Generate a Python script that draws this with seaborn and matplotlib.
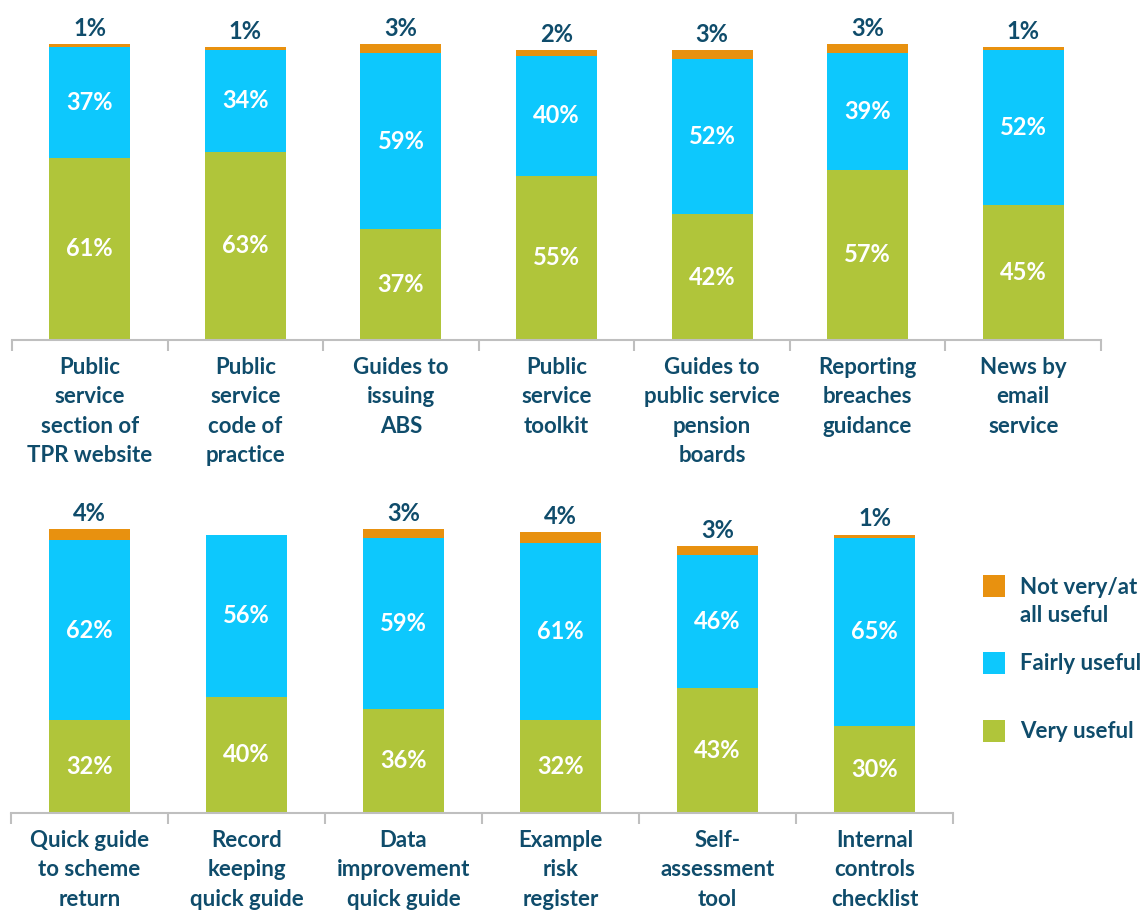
import matplotlib
matplotlib.use("Agg")
import matplotlib.pyplot as plt
import seaborn as sns
import numpy as np
from matplotlib.patches import Rectangle
from matplotlib.ticker import FixedLocator

# ---------------- data ----------------
top_categories = [
    "Public\nservice\nsection of\nTPR website",
    "Public\nservice\ncode of\npractice",
    "Guides to\nissuing\nABS",
    "Public\nservice\ntoolkit",
    "Guides to\npublic service\npension\nboards",
    "Reporting\nbreaches\nguidance",
    "News by\nemail\nservice",
]
top_very = [61, 63, 37, 55, 42, 57, 45]
top_fairly = [37, 34, 59, 40, 52, 39, 52]
top_not = [1, 1, 3, 2, 3, 3, 1]

bottom_categories = [
    "Quick guide\nto scheme\nreturn",
    "Record\nkeeping\nquick guide",
    "Data\nimprovement\nquick guide",
    "Example\nrisk\nregister",
    "Self-\nassessment\ntool",
    "Internal\ncontrols\nchecklist",
]
bottom_very = [32, 40, 36, 32, 43, 30]
bottom_fairly = [62, 56, 59, 61, 46, 65]
bottom_not = [4, 0, 3, 4, 3, 1]

series_names = ["Not very/at\nall useful", "Fairly useful", "Very useful"]

# ---------------- style ----------------
GREEN = "#B0C53A"
CYAN = "#0DC8FD"
ORANGE = "#E8910F"
TEXT = "#0F4C6B"
AXIS = "#BFBFBF"

sns.set_theme(style="white")
plt.rcParams['font.family'] = ['Lato', 'DejaVu Sans']
plt.rcParams['font.weight'] = 'bold'

W, H = 1148, 910
fig = plt.figure(figsize=(W / 100, H / 100), dpi=100)
ax_top = fig.add_axes([12 / W, (H - 340) / H, 1089 / W, 299 / H])
ax_bot = fig.add_axes([11 / W, (H - 813) / H, 942 / W, 290 / H])

LABEL_FS = 16
VALUE_FS = 17


def draw(ax, cats, very, fairly, notv):
    very_a = np.array(very, dtype=float)
    fairly_a = np.array(fairly, dtype=float)
    not_a = np.array(notv, dtype=float)
    mid = very_a + fairly_a
    tot = mid + not_a
    kw = dict(width=0.52, saturation=1, linewidth=0, ax=ax, order=cats)
    sns.barplot(x=cats, y=tot, color=ORANGE, **kw)
    sns.barplot(x=cats, y=mid, color=CYAN, **kw)
    sns.barplot(x=cats, y=very_a, color=GREEN, **kw)
    for i in range(len(cats)):
        ax.text(i, very_a[i] / 2, f"{int(very_a[i])}%", ha="center", va="center",
                color="white", fontsize=VALUE_FS, fontweight="bold")
        ax.text(i, very_a[i] + fairly_a[i] / 2, f"{int(fairly_a[i])}%", ha="center",
                va="center", color="white", fontsize=VALUE_FS, fontweight="bold")
        if not_a[i] > 0:
            ax.annotate(f"{int(not_a[i])}%", (i, tot[i]), xytext=(0, 3),
                        textcoords="offset points", ha="center", va="bottom",
                        color=TEXT, fontsize=VALUE_FS, fontweight="bold",
                        annotation_clip=False)
    n = len(cats)
    ax.set_xlim(-0.5, n - 0.5)
    ax.set_ylim(0, 100)
    ax.set_yticks([])
    ax.set_xlabel("")
    ax.set_ylabel("")
    for s in ["top", "left", "right"]:
        ax.spines[s].set_visible(False)
    ax.spines["bottom"].set_color(AXIS)
    ax.spines["bottom"].set_linewidth(1.5)
    ax.xaxis.set_minor_locator(FixedLocator([k - 0.5 for k in range(n + 1)]))
    ax.tick_params(axis="x", which="minor", bottom=True, length=8, width=1.5,
                   color=AXIS, direction="out")
    ax.tick_params(axis="x", which="major", bottom=False, length=0, pad=12,
                   labelsize=LABEL_FS, labelcolor=TEXT)
    for lbl in ax.get_xticklabels():
        lbl.set_fontweight("bold")
        lbl.set_linespacing(1.5)
        lbl.set_va("top")
    ax.patch.set_alpha(0)


draw(ax_top, top_categories, top_very, top_fairly, top_not)
draw(ax_bot, bottom_categories, bottom_very, bottom_fairly, bottom_not)

# legend (manual placement to match the reference layout)
legend_colors = [ORANGE, CYAN, GREEN]
square_tops = [575, 652, 720]
for name, col, top in zip(series_names, legend_colors, square_tops):
    fig.patches.append(Rectangle((983 / W, 1 - (top + 22) / H), 22 / W, 22 / H,
                                 transform=fig.transFigure, facecolor=col,
                                 edgecolor="none"))
    fig.text(1020 / W, 1 - (top + 12) / H, name.split("\n")[0], ha="left",
             va="center", color=TEXT, fontsize=LABEL_FS, fontweight="bold")
    if "\n" in name:
        fig.text(1020 / W, 1 - (top + 40) / H, name.split("\n")[1], ha="left",
                 va="center", color=TEXT, fontsize=LABEL_FS, fontweight="bold")

fig.savefig("out.png", dpi=100)
